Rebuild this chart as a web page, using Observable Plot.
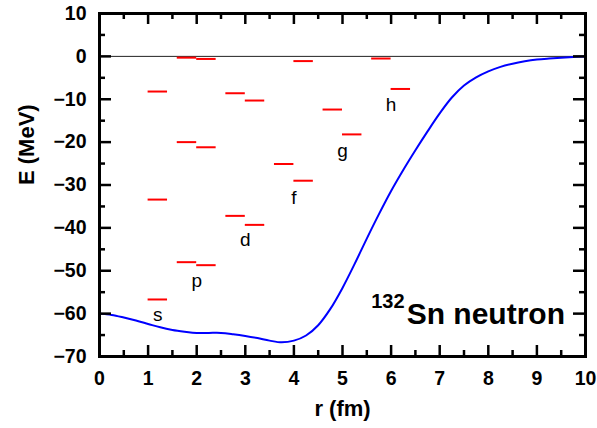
<!DOCTYPE html>
<html>
<head>
<meta charset="utf-8">
<script src="https://cdn.jsdelivr.net/npm/d3@7"></script>
<script src="https://cdn.jsdelivr.net/npm/@observablehq/plot@0.6"></script>
<style>
  html, body { margin: 0; padding: 0; background: #fff; }
  #chart svg { display: block; }
</style>
</head>
<body>
<div id="chart"></div>
<script>
// Potential curve: r (fm) and E (MeV)
const potR = [0, 0.25, 0.5, 0.75, 1.0, 1.25, 1.5, 1.75, 2.0, 2.25, 2.5, 2.75, 3.0, 3.25, 3.5, 3.75, 4.0, 4.25, 4.5, 4.75, 5.0, 5.25, 5.5, 5.75, 6.0, 6.25, 6.5, 6.75, 7.0, 7.25, 7.5, 7.75, 8.0, 8.25, 8.5, 8.75, 9.0, 9.25, 9.5, 9.75, 10.0];
const potE = [-60.0, -60.3, -60.9, -61.6, -62.4, -63.2, -63.8, -64.2, -64.5, -64.5, -64.5, -64.8, -65.2, -65.7, -66.3, -66.7, -66.3, -65.1, -62.7, -58.9, -54.0, -48.4, -42.5, -36.8, -31.4, -26.5, -21.9, -17.5, -13.3, -9.6, -6.8, -4.9, -3.5, -2.45, -1.7, -1.15, -0.75, -0.5, -0.3, -0.15, -0.05];

// Single-particle levels
const levelR1 = [1.0, 1.0, 1.0, 1.6, 2.0, 1.6, 2.0, 1.6, 2.0, 2.6, 3.0, 2.6, 3.0, 3.6, 4.0, 4.0, 4.6, 5.0, 5.6, 6.0];
const levelR2 = [1.4, 1.4, 1.4, 2.0, 2.4, 2.0, 2.4, 2.0, 2.4, 3.0, 3.4, 3.0, 3.4, 4.0, 4.4, 4.4, 5.0, 5.4, 6.0, 6.4];
const levelE  = [-56.7, -33.4, -8.2, -48.0, -48.7, -20.0, -21.2, -0.3, -0.6, -37.2, -39.3, -8.6, -10.3, -25.1, -29.0, -1.1, -12.4, -18.2, -0.5, -7.6];

// Orbital labels
const orbitalNames = ["s", "p", "d", "f", "g", "h"];
const orbitalR = [1.2, 2.0, 3.0, 4.0, 5.0, 6.0];
const orbitalE = [-60.3, -52.4, -42.9, -33.0, -22.1, -11.4];

// Ticks
const xMajor = [0, 1, 2, 3, 4, 5, 6, 7, 8, 9, 10];
const xMinor = [0.5, 1.5, 2.5, 3.5, 4.5, 5.5, 6.5, 7.5, 8.5, 9.5];
const yMajor = [-70, -60, -50, -40, -30, -20, -10, 0, 10];
const yMinor = [-65, -55, -45, -35, -25, -15, -5, 5];

// Texts
const xLabel = "r (fm)";
const yLabel = "E (MeV)";
const massNumber = "132";
const nucleusLabel = "Sn neutron";
const massR = 5.59, massE = -58.65;
const nucleusR = 6.32, nucleusE = -62.4;

const potential = potR.map((r, i) => ({r, E: potE[i]}));
const levels = levelE.map((E, i) => ({r1: levelR1[i], r2: levelR2[i], E}));
const orbitals = orbitalNames.map((n, i) => ({n, r: orbitalR[i], E: orbitalE[i]}));

const W = 597, H = 428;
const mL = 99, mR = 12, mT = 13, mB = 72;
const plotW = W - mL - mR, plotH = H - mT - mB;
const FONT = "'Liberation Sans', Arial, Helvetica, sans-serif";
const tickW = 2.5;

const chart = Plot.plot({
  width: W, height: H,
  marginLeft: mL, marginRight: mR, marginTop: mT, marginBottom: mB,
  style: {fontFamily: FONT, background: "#fff", color: "#000"},
  x: {domain: [0, 10]},
  y: {domain: [-70, 10]},
  marks: [
    Plot.ruleY([0], {stroke: "#222", strokeWidth: 1}),
    Plot.ruleY(levels, {y: "E", x1: "r1", x2: "r2", stroke: "#ff0000", strokeWidth: 2}),
    Plot.line(potential, {x: "r", y: "E", stroke: "#0000ff", strokeWidth: 2, curve: "catmull-rom"}),
    Plot.text(orbitals, {x: "r", y: "E", text: "n", fontSize: 19, fill: "#000", textAnchor: "middle", lineAnchor: "middle"}),
    Plot.text([massNumber], {x: () => massR, y: () => massE, text: d => d, fontSize: 20, fontWeight: "bold", textAnchor: "start", lineAnchor: "bottom", fill: "#000"}),
    Plot.text([nucleusLabel], {x: () => nucleusR, y: () => nucleusE, text: d => d, fontSize: 30, fontWeight: "bold", textAnchor: "start", lineAnchor: "bottom", fill: "#000"}),
    // inward ticks
    Plot.tickX(xMajor, {x: d => d, insetTop: plotH - 11, stroke: "#000", strokeWidth: tickW}),
    Plot.tickX(xMajor, {x: d => d, insetBottom: plotH - 11, stroke: "#000", strokeWidth: tickW}),
    Plot.tickX(xMinor, {x: d => d, insetTop: plotH - 6, stroke: "#000", strokeWidth: tickW}),
    Plot.tickX(xMinor, {x: d => d, insetBottom: plotH - 6, stroke: "#000", strokeWidth: tickW}),
    Plot.tickY(yMajor, {y: d => d, insetRight: plotW - 12, stroke: "#000", strokeWidth: tickW}),
    Plot.tickY(yMajor, {y: d => d, insetLeft: plotW - 12, stroke: "#000", strokeWidth: tickW}),
    Plot.tickY(yMinor, {y: d => d, insetRight: plotW - 6, stroke: "#000", strokeWidth: tickW}),
    Plot.tickY(yMinor, {y: d => d, insetLeft: plotW - 6, stroke: "#000", strokeWidth: tickW}),
    Plot.frame({stroke: "#000", strokeWidth: 3}),
    Plot.axisX(xMajor, {tickSize: 0, tickPadding: 15, fontSize: 19.5, fontWeight: "bold", label: null, fill: "#000"}),
    Plot.axisY(yMajor, {tickSize: 0, tickPadding: 13, fontSize: 19.5, fontWeight: "bold", label: null, fill: "#000"}),
    Plot.text([xLabel], {frameAnchor: "bottom", dy: 52, text: d => d, fontSize: 22, fontWeight: "bold", lineAnchor: "middle", fill: "#000"}),
    Plot.text([yLabel], {frameAnchor: "left", dx: -73, rotate: -90, text: d => d, fontSize: 22, fontWeight: "bold", lineAnchor: "middle", fill: "#000"})
  ]
});
document.getElementById("chart").appendChild(chart);
</script>
</body>
</html>
